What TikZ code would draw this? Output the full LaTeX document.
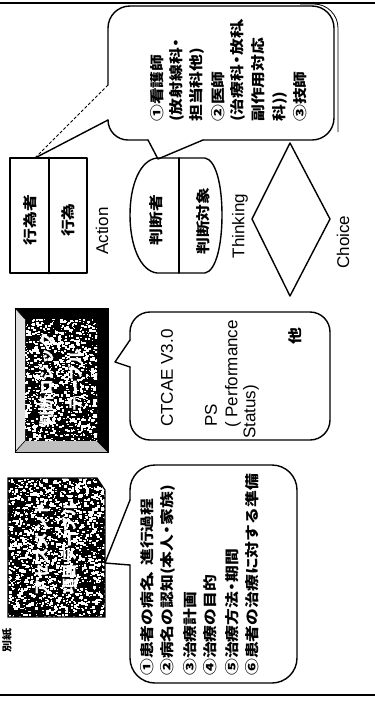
\documentclass[tikz,border=0pt]{standalone}
\usepackage{fontspec}
\newfontfamily\jp{Noto Sans CJK JP}
\newfontfamily\lat{Liberation Sans}
\newcommand\hw[1]{\makebox[.55em][c]{#1}}
\newcommand\speckles[5]{%
  \foreach \k in {1,...,#5}{%
    \pgfmathsetmacro\nx{#1+(#3)*rnd}%
    \pgfmathsetmacro\ny{#2+(#4)*rnd}%
    \pgfmathsetmacro\ns{0.8+2.4*rnd}%
    \fill[white] (\nx,\ny) rectangle ++(\ns,\ns*0.8);
  }}
\tikzset{
  bord/.style={line width=1.4pt, line cap=round, line join=round},
  jtxt/.style={font=\jp\bfseries\fontsize{14}{16}\selectfont, rotate=90, xscale=1.2, inner sep=0pt},
  ltxt/.style={font=\lat\fontsize{17}{19}\selectfont, rotate=90, inner sep=0pt},
  wtxt/.style={font=\jp\bfseries\fontsize{15}{17}\selectfont, text=white, rotate=90, xscale=1.05, inner sep=0pt},
}
\begin{document}
\begin{tikzpicture}[x=1pt,y=-1pt]
\useasboundingbox (0,0) rectangle (375,702);
\pgfmathsetseed{11}
% frame lines
\draw[line width=2.6pt] (0,3) -- (375,3);
\draw[line width=2.6pt] (0,695) -- (375,695);

% ---------- Action box
\node[bord, draw, minimum width=77pt, minimum height=115pt, inner sep=0pt] (actbox) at (48.5,215.5) {};
\draw[bord] (actbox.north) ++(0.5,0) coordinate (divA1) (divA1) -- (divA1 |- actbox.south);
\node[jtxt] (actor) at (30,220) {行為者};
\node[jtxt] (act) at (68,220) {行為};
\node[ltxt] (action) at (102,231) {Action};
\coordinate (tip1) at (35,158);

% ---------- Thinking shape
\draw[bord] (157,158) -- (205,158) .. controls (216,160) and (222,185) .. (222,215)
  .. controls (222,245) and (216,271) .. (205,273) -- (157,273)
  .. controls (140,271) and (130,245) .. (130,215)
  .. controls (130,185) and (140,160) .. (157,158) -- cycle;
\coordinate (thA) at (179,158);
\coordinate (thB) at (179,273);
\draw[bord] (thA) -- (thB);
\node[jtxt] (judge) at (156,220) {判断者};
\node[jtxt] (target) at (203,221) {判断対象};
\node[ltxt] (thinking) at (240,226) {Thinking};
\coordinate (tip2) at (158,159);

% ---------- Choice diamond
\coordinate (dT) at (290,143);
\coordinate (dR) at (330,219);
\coordinate (dB) at (290,296);
\coordinate (dL) at (252,219);
\draw[bord] (dT) -- (dR) -- (dB) -- (dL) -- cycle;
\node[ltxt] (choice) at (343,242) {Choice};

% ---------- Big callout (top right)
\draw[bord, rounded corners=20pt] (148,140) -- (108,140) -- (108,120);
\draw[bord, rounded corners=22pt] (108,85) -- (108,6) -- (334,6) -- (334,140) -- (203,140);
\draw[line width=0.8pt, rounded corners=24pt] (300,4) -- (338,4) -- (338,132);
\draw[bord] (108,120) -- (tip1);
\draw[line width=1pt, densely dashed] (108,85) -- (tip1);
\draw[bord] (148,140) -- (tip2) -- (203,140);
\foreach \xx/\tt in {157/①看護師, 177/(放射線科\hw{・}, 197/担当科他), 218/②医師,
   238/(治療科\hw{・}放科\hw{、}, 258/副作用対応, 280/科)), 300/③技師}{
  \node[jtxt, anchor=west] at (\xx,122) {\tt};
}

% ---------- Judgement logic table (textured framed box)
\fill[black] (15,308) rectangle (108,452);
\begin{scope}
  \clip (25,319) rectangle (97,441);
  \speckles{24}{318}{74}{124}{1100}
\end{scope}
\fill[black!12] (15,308) -- (25,319) -- (25,441) -- (15,452) -- cycle;
\fill[black!25] (15,452) -- (25,441) -- (97,441) -- (108,452) -- cycle;
\draw[line width=0.8pt] (15,308) rectangle (108,452);
\draw[line width=0.6pt] (15,308) -- (25,319) (15,452) -- (25,441) (108,452) -- (97,441);
\node[wtxt] (logic1) at (47,380) {判断ロジック};
\node[wtxt] (logic2) at (75,380) {テーブル};

% ---------- CTCAE callout
\draw[bord, rounded corners=20pt] (130,367) -- (130,440) -- (330,440) -- (330,312) -- (130,312) -- (130,340);
\coordinate (tip3) at (115,362);
\draw[bord] (130,340) -- (tip3) -- (130,367);
\node[ltxt, anchor=west] (ctcae) at (167,427) {CTCAE V3.0};
\node[ltxt, anchor=west] (ps) at (211,427) {PS};
\node[ltxt, anchor=west] (perf) at (233,428) {( Performance};
\node[ltxt, anchor=west] (status) at (251,439) {Status)};
\node[jtxt] (other) at (295,336) {他};

% ---------- Assessment table (textured box with dog-ear)
\begin{scope}
  \clip (8,478) -- (97,478) -- (105,490) -- (105,617) -- (8,617) -- cycle;
  \fill[black] (8,478) rectangle (105,617);
  \speckles{7}{477}{99}{141}{1700}
\end{scope}
\draw[line width=1.2pt] (8,478) -- (97,478) -- (105,490) -- (105,617) -- (8,617) -- cycle;
\node[wtxt] (assess1) at (42,548) {アセスメント};
\node[wtxt] (assess2) at (70,548) {項目テーブル};
\node[jtxt, font=\jp\bfseries\fontsize{10}{11}\selectfont] (note) at (7,640) {別紙};
\coordinate (tip4) at (105,563);

% ---------- Assessment items callout
\draw[bord, rounded corners=25pt] (130,565) -- (130,683) -- (297,683) -- (297,465) -- (130,465) -- (130,500);
\draw[bord] (130,500) -- (tip4) -- (130,565);
\foreach \xx/\tt in {147/①患者の病名\hw{、}進行過程, 168/②病名の認知(本人\hw{・}家族),
   190/③治療計画, 210/④治療の目的, 232/⑤治療方法\hw{・}期間, 252/⑥患者の治療に対する準備}{
  \node[jtxt, anchor=west] at (\xx,676) {\tt};
}
\end{tikzpicture}
\end{document}
